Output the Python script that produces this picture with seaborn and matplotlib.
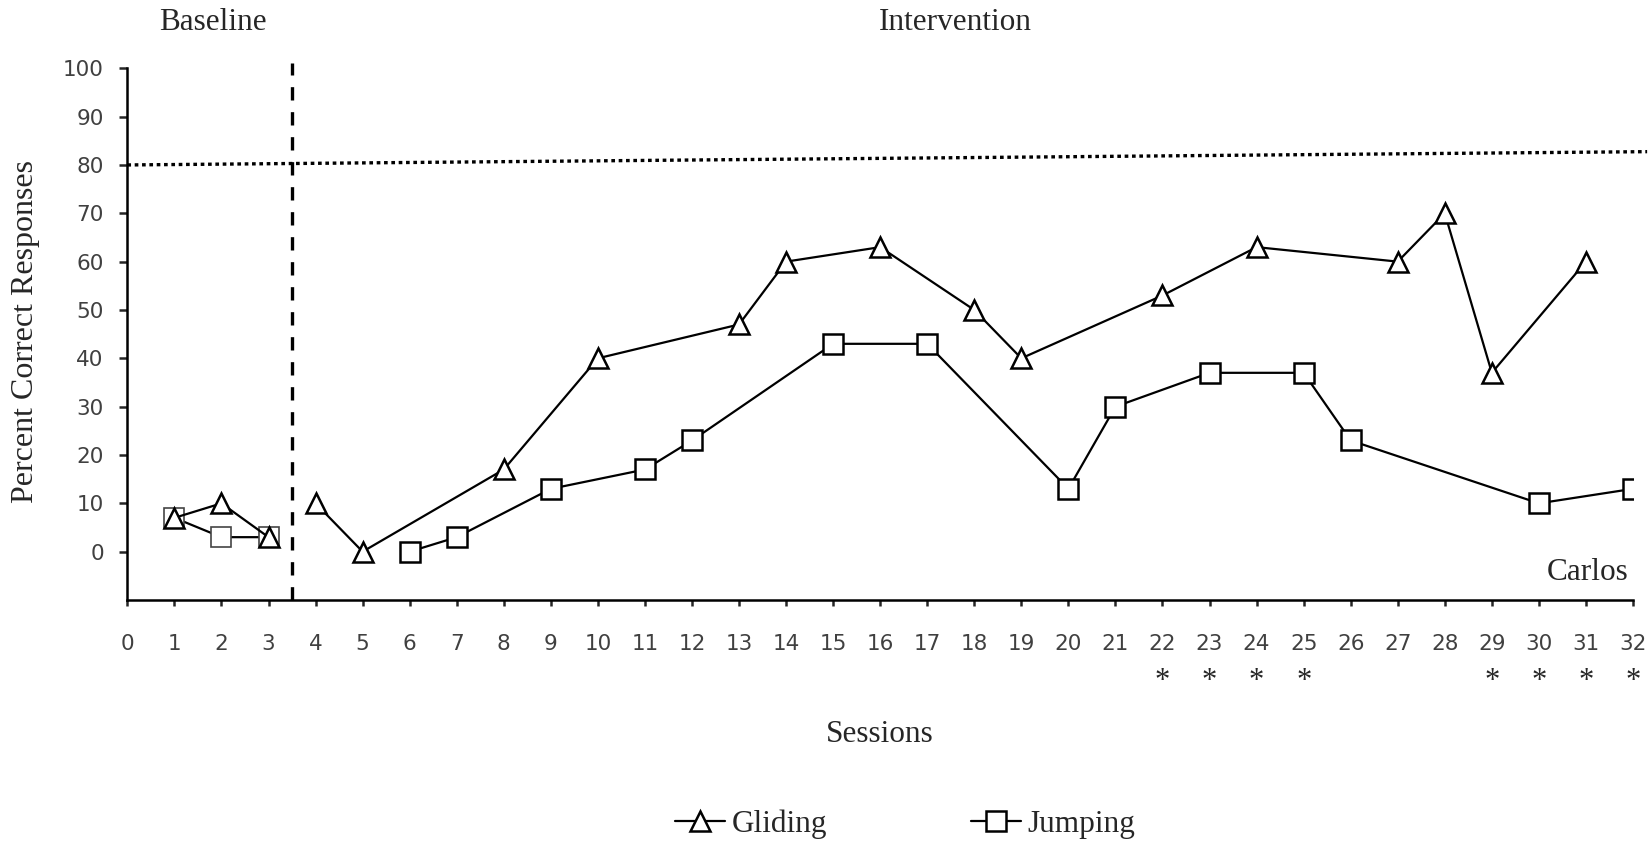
import numpy as np
import pandas as pd
import matplotlib
matplotlib.use('Agg')
import matplotlib.pyplot as plt
import matplotlib.transforms as mtransforms
from matplotlib.lines import Line2D
from matplotlib.font_manager import FontProperties
import seaborn as sns

# sessions and percent correct
glide_base_x = [1, 2, 3]
glide_base_y = [7, 10, 3]
glide_int_x = [4, 5, 8, 10, 13, 14, 16, 18, 19, 22, 24, 27, 28, 29, 31]
glide_int_y = [10, 0, 17, 40, 47, 60, 63, 50, 40, 53, 63, 60, 70, 37, 60]

jump_base_x = [1, 2, 3]
jump_base_y = [7, 3, 3]
jump_int_x = [6, 7, 9, 11, 12, 15, 17, 20, 21, 23, 25, 26, 30, 32]
jump_int_y = [0, 3, 13, 17, 23, 43, 43, 13, 30, 37, 37, 23, 10, 13]

star_sessions = [22, 23, 24, 25, 29, 30, 31, 32]
phase_change = 3.5
criterion = [80, 82.75]   # dotted criterion line, slightly tilted in the source
x_ticks = list(range(0, 33))
y_ticks = list(range(0, 101, 10))

sns.set_style('white')
serif = 'Liberation Serif'
tick_col = '#404040'

fig = plt.figure(figsize=(16.52, 8.47), dpi=100)
ax = fig.add_axes([0.0771, 0.2916, 0.9885 - 0.0771, 0.9194 - 0.2916])

mk = dict(markersize=14, markerfacecolor='white', markeredgecolor='black',
          markeredgewidth=1.8, linewidth=1.6, color='black')

# squares first so the triangles sit on top in baseline
sns.lineplot(x=jump_base_x, y=jump_base_y, marker='s', ax=ax,
             **{**mk, 'markeredgecolor': '#444444', 'markeredgewidth': 1.2})
sns.lineplot(x=jump_int_x, y=jump_int_y, marker='s', ax=ax, **mk)
sns.lineplot(x=glide_base_x, y=glide_base_y, marker='^', ax=ax, **mk)
sns.lineplot(x=glide_int_x, y=glide_int_y, marker='^', ax=ax, **mk)

ax.plot([0, 32.3], criterion, color='black', lw=2.4,
        linestyle=(0, (1.1, 1.1)), clip_on=False, zorder=1)
ax.plot([phase_change, phase_change], [-10, 101], color='black', lw=2.4,
        linestyle=(0, (4, 3.5)), clip_on=False, zorder=1)

ax.set_xlim(0, 32)
ax.set_ylim(-10, 100)
ax.set_xticks(x_ticks)
ax.set_yticks(y_ticks)
for s in ['top', 'right']:
    ax.spines[s].set_visible(False)
for s in ['left', 'bottom']:
    ax.spines[s].set_linewidth(1.8)
    ax.spines[s].set_color('black')
ax.tick_params(axis='x', direction='out', length=4.5, width=1.8, pad=20,
               labelsize=15.5, labelcolor=tick_col, bottom=True)
ax.tick_params(axis='y', direction='out', length=6, width=1.8, pad=11,
               labelsize=15.5, labelcolor=tick_col, left=True)
ax.set_xlabel('')
ax.set_ylabel('')

top = mtransforms.blended_transform_factory(ax.transData, fig.transFigure)
ax.text(1.82, 0.973, 'Baseline', transform=top, ha='center', va='center',
        family=serif, fontsize=22.5)
ax.text(17.6, 0.973, 'Intervention', transform=top, ha='center', va='center',
        family=serif, fontsize=22.5)
for s in star_sessions:
    ax.text(s, 0.1955, '*', transform=top, ha='center', va='center',
            family=serif, fontsize=22)
ax.text(31.9, -4.3, 'Carlos', ha='right', va='center', family=serif,
        fontsize=22.5)

fig.text(0.5327, 0.1334, 'Sessions', ha='center', va='center', family=serif,
         fontsize=22.5)
fig.text(0.0157, 0.609, 'Percent Correct Responses', rotation=90, ha='center',
         va='center', family=serif, fontsize=23)

handles = [Line2D([], [], marker='^', **mk), Line2D([], [], marker='s', **mk)]
fig.legend(handles, ['Gliding', 'Jumping'], loc='center',
           bbox_to_anchor=(0.548, 0.027), ncol=2, frameon=False,
           handlelength=1.6, handletextpad=0.2, columnspacing=4.6,
           prop=FontProperties(family=serif, size=22.5))

fig.savefig('out.png', dpi=100)
